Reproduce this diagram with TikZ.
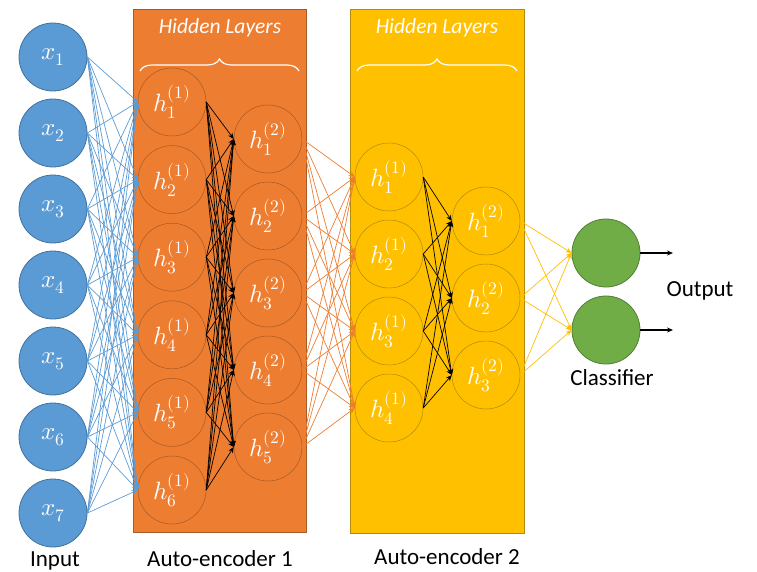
\documentclass[tikz,border=0pt]{standalone}
\usepackage{fontspec}
\usepackage{unicode-math}
\setmainfont{Carlito}
\setmathfont{Latin Modern Math}
\usetikzlibrary{arrows.meta, decorations.pathreplacing}

\definecolor{inblue}{HTML}{5B9BD5}
\definecolor{inblueline}{HTML}{41719C}
\definecolor{aeorange}{HTML}{ED7D31}
\definecolor{aeorangeline}{HTML}{A85A25}
\definecolor{aeyellow}{HTML}{FFC000}
\definecolor{aeyellowline}{HTML}{B38A10}
\definecolor{clsgreen}{HTML}{70AD47}
\definecolor{clsgreenline}{HTML}{507E32}

\begin{document}
\begin{tikzpicture}[x=1pt, y=-1pt,
    neuron/.style={circle, draw, minimum size=68pt, inner sep=0pt, text=white,
      font=\fontsize{25}{28}\selectfont},
    inneuron/.style={neuron, fill=inblue, draw=inblueline, line width=0.8pt},
    orneuron/.style={neuron, fill=aeorange, draw=aeorangeline, line width=0.5pt},
    yeneuron/.style={neuron, fill=aeyellow, draw=aeyellowline, line width=0.5pt},
    clneuron/.style={neuron, fill=clsgreen, draw=clsgreenline, line width=0.8pt},
    aebox/.style={line width=0.8pt},
    link/.style={-{Stealth[length=6pt, width=5pt]}, line width=0.7pt},
    caption/.style={font=\fontsize{23}{26}\selectfont, text=black},
    hidlabel/.style={font=\itshape\fontsize{21.5}{24}\selectfont, text=white},
    hidbrace/.style={draw=white, line width=1.2pt, decorate,
      decoration={brace, amplitude=12pt}}]

    \useasboundingbox (0,0) rectangle (757,572);

    % auto-encoder boxes
    \draw[aebox, fill=aeorange, draw=aeorangeline] (133,9) rectangle (306,532);
    \draw[aebox, fill=aeyellow, draw=aeyellowline] (350,9) rectangle (524,533);

    \node[hidlabel] (hid1) at (220,28) {Hidden Layers};
    \node[hidlabel] (hid2) at (437,28) {Hidden Layers};
    \draw[hidbrace] (140,71) -- (299,71);
    \draw[hidbrace] (357,71) -- (517,71);

    % neurons
    \foreach \i in {1,...,7}
        \node[inneuron] (x\i) at (53,{57+76*(\i-1)}) {$x_{\i}$};
    \foreach \i in {1,...,6}
        \node[orneuron] (a\i) at (172,{102+77.6*(\i-1)}) {$h_{\i}^{(1)}$};
    \foreach \i in {1,...,5}
        \node[orneuron] (b\i) at (268,{139+77*(\i-1)}) {$h_{\i}^{(2)}$};
    \foreach \i in {1,...,4}
        \node[yeneuron] (c\i) at (389,{177+77*(\i-1)}) {$h_{\i}^{(1)}$};
    \foreach \i in {1,...,3}
        \node[yeneuron] (d\i) at (486,{221+77*(\i-1)}) {$h_{\i}^{(2)}$};
    \node[clneuron] (o1) at (606,253) {};
    \node[clneuron] (o2) at (606,330) {};

    % connections
    \foreach \i in {1,...,7}
        \foreach \j in {1,...,6}
            \draw[link, inblue] (x\i.east) -- (a\j.west);
    \foreach \i in {1,...,6}
        \foreach \j in {1,...,5}
            \draw[link, black] (a\i.east) -- (b\j.west);
    \foreach \i in {1,...,5}
        \foreach \j in {1,...,4}
            \draw[link, aeorange] (b\i.east) -- (c\j.west);
    \foreach \i in {1,...,4}
        \foreach \j in {1,...,3}
            \draw[link, black] (c\i.east) -- (d\j.west);
    \foreach \i in {1,...,3}
        \foreach \j in {1,2}
            \draw[link, aeyellow] (d\i.east) -- (o\j.west);

    \coordinate (out1) at (673,253);
    \coordinate (out2) at (673,330);
    \draw[link, black, line width=1.2pt] (o1.east) -- (out1);
    \draw[link, black, line width=1.2pt] (o2.east) -- (out2);

    % captions
    \node[caption] (output) at (700,291) {Output};
    \node[caption] (classifier) at (612,378) {Classifier};
    \node[caption] (input) at (55,561) {Input};
    \node[caption] (enc1) at (220,559) {Auto-encoder 1};
    \node[caption] (enc2) at (447,557) {Auto-encoder 2};

\end{tikzpicture}
\end{document}
